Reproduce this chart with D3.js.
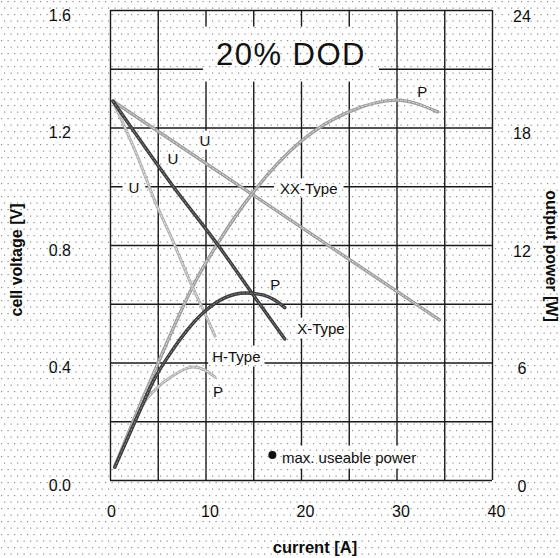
<!DOCTYPE html>
<html>
<head>
<meta charset="utf-8">
<script src="https://cdn.jsdelivr.net/npm/d3@7"></script>
<style>
  body { margin: 0; background: #fff; }
  svg { display: block; font-family: "Liberation Sans", Arial, sans-serif; }
</style>
</head>
<body>
<div id="chart"></div>
<script>
// tick labels
const currentTicks = [0, 10, 20, 30, 40];
const voltageTicks = [0, 0.4, 0.8, 1.2, 1.6];
const powerTicks = [0, 6, 12, 18, 24];

// cell voltage [V] vs current [A]
const xxVoltage = [[0.3, 1.29], [15, 0.97], [34.5, 0.545]];
const xVoltage = [[0.3, 1.29], [6.6, 1.0], [11.3, 0.8], [15, 0.63], [18.3, 0.48]];
const hVoltage = [[0.3, 1.29], [2.9, 1.1], [4.7, 0.95], [6.5, 0.82], [8.6, 0.66], [9.9, 0.57], [11, 0.49]];

// output power [W] vs current [A]
const xxPower = [[0.5, 0.7], [2, 2.5], [4.7, 5.6], [8.9, 10.1], [11.3, 12.1], [15, 14.7], [20, 17.3], [25, 18.8], [30, 19.4], [34.3, 18.8]];
const xPower = [[0.5, 0.65], [2, 2.3], [3, 3.4], [4.7, 5.2], [6.5, 6.6], [8, 7.6], [9.9, 8.6], [12, 9.3], [14.2, 9.55], [16, 9.45], [17.2, 9.2], [18.3, 8.8]];
const hPower = [[0.5, 0.65], [2, 2.4], [3.5, 3.9], [4.7, 4.6], [6.5, 5.3], [8.7, 5.77], [10, 5.6], [11, 5.25]];

var W = 560, H = 558;
var plotLeft = 110, plotRight = 492, plotTop = 10, plotBottom = 480;

var svg = d3.select("#chart")
    .append("svg")
    .attr("width", W)
    .attr("height", H);

// halftone dots of the scanned page
var defs = svg.append("defs");
var pat = defs.append("pattern")
    .attr("id", "dots")
    .attr("patternUnits", "userSpaceOnUse")
    .attr("width", 13).attr("height", 13);
[[1, 1], [7.5, 1], [4, 7.5], [10.5, 7.5]].forEach(function (p) {
    pat.append("rect").attr("x", p[0]).attr("y", p[1])
        .attr("width", 1.2).attr("height", 1.2).attr("fill", "#8c8c8c");
});

svg.append("rect").attr("width", W).attr("height", H).attr("fill", "#fff");
svg.append("rect").attr("width", W).attr("height", H).attr("fill", "url(#dots)");

var x = d3.scaleLinear().domain([0, 40]).range([plotLeft, plotRight]);
var yV = d3.scaleLinear().domain([0, 1.6]).range([plotBottom, plotTop]);
var yP = d3.scaleLinear().domain([0, 24]).range([plotBottom, plotTop]);

// grid
var grid = svg.append("g");
grid.append("g")
    .attr("transform", "translate(0," + plotBottom + ")")
    .call(d3.axisBottom(x).tickValues(d3.range(0, 41, 5)).tickSize(-(plotBottom - plotTop)).tickFormat(""))
    .call(function (g) { g.select(".domain").remove(); });
grid.append("g")
    .attr("transform", "translate(" + plotLeft + ",0)")
    .call(d3.axisLeft(yV).tickValues(d3.range(0, 9).map(function (i) { return i * 0.2; })).tickSize(-(plotRight - plotLeft)).tickFormat(""))
    .call(function (g) { g.select(".domain").remove(); });
grid.selectAll("line").attr("stroke", "#1a1a1a").attr("stroke-width", 1.4);

// tick labels
function styleTicks(g) {
    g.select(".domain").remove();
    g.selectAll(".tick line").remove();
    g.selectAll("text").attr("font-size", 16).attr("fill", "#0d0d0d")
        .attr("font-family", "Liberation Sans, Arial, sans-serif");
}
svg.append("g")
    .attr("transform", "translate(0," + plotBottom + ")")
    .call(d3.axisBottom(x).tickValues(currentTicks).tickSize(0).tickPadding(26))
    .call(styleTicks)
    .selectAll("text").attr("dx", function (d) { return d === 0 ? 1 : 4; });
svg.append("g")
    .attr("transform", "translate(" + plotLeft + ",0)")
    .call(d3.axisLeft(yV).tickValues(voltageTicks).tickSize(0).tickPadding(39).tickFormat(d3.format(".1f")))
    .call(styleTicks)
    .selectAll("text").attr("dy", "0.65em");
svg.append("g")
    .attr("transform", "translate(" + plotRight + ",0)")
    .call(d3.axisRight(yP).tickValues(powerTicks).tickSize(0).tickPadding(30))
    .call(styleTicks)
    .selectAll("text").attr("text-anchor", "middle").attr("dy", "0.7em");

// axis titles
svg.append("text")
    .attr("x", 315).attr("y", 553)
    .attr("text-anchor", "middle")
    .attr("font-weight", "bold").attr("font-size", 16.5).attr("fill", "#0d0d0d")
    .text("current [A]");
svg.append("text")
    .attr("transform", "translate(22,260) rotate(-90)")
    .attr("text-anchor", "middle")
    .attr("font-weight", "bold").attr("font-size", 16).attr("fill", "#0d0d0d")
    .text("cell voltage [V]");
svg.append("text")
    .attr("transform", "translate(546,256) rotate(90)")
    .attr("text-anchor", "middle")
    .attr("font-weight", "bold").attr("font-size", 16).attr("fill", "#0d0d0d")
    .text("output power [W]");

// labels that sit on a blank patch over the grid
var labels = svg.append("g");
function boxLabel(txt, cx, cy, size, anchor, padX, padY, spacing) {
    var g = labels.append("g");
    var t = g.append("text")
        .attr("x", cx).attr("y", cy)
        .attr("text-anchor", anchor)
        .attr("dominant-baseline", "central")
        .attr("font-size", size).attr("fill", "#111")
        .attr("letter-spacing", spacing || 0)
        .text(txt);
    var b = t.node().getBBox();
    g.insert("rect", "text")
        .attr("x", b.x - padX).attr("y", b.y - padY)
        .attr("width", b.width + 2 * padX).attr("height", b.height + 2 * padY)
        .attr("fill", "url(#dots)");
    g.insert("rect", "rect")
        .attr("x", b.x - padX).attr("y", b.y - padY)
        .attr("width", b.width + 2 * padX).attr("height", b.height + 2 * padY)
        .attr("fill", "#fff");
    return g;
}

boxLabel("20% DOD", x(18.95), yV(1.45), 31, "middle", 13, 10, 1.5);
boxLabel("U", x(9.95), yV(1.157), 15, "middle", 3, 1);
boxLabel("U", x(6.6), yV(1.096), 15, "middle", 3, 1);
boxLabel("U", x(2.5), yV(0.997), 15, "middle", 6, 1);
boxLabel("XX-Type", x(17.8), yV(0.994), 15, "start", 6, 1);
boxLabel("P", x(32.7), yV(1.321), 15, "middle", 3, 1);
boxLabel("P", x(17.3), yV(0.664), 15, "middle", 3, 1);
boxLabel("X-Type", x(19.6), yV(0.517), 15, "start", 4, 2);
boxLabel("H-Type", x(10.7), yV(0.422), 15, "start", 4, 2);
boxLabel("P", x(11.3), yV(0.30), 15, "middle", 3, 1);
var maxG = boxLabel("max. useable power", x(18.0), yV(0.078), 15, "start", 4, 3);
// widen the blank patch so it also covers the dot marker
maxG.selectAll("rect").attr("x", x(16.2)).attr("width", x(33.5) - x(16.2));
maxG.append("circle")
    .attr("cx", x(17.0)).attr("cy", yV(0.085))
    .attr("r", 4).attr("fill", "#111");

// curves
var lineV = d3.line()
    .x(function (d) { return x(d[0]); })
    .y(function (d) { return yV(d[1]); })
    .curve(d3.curveMonotoneX);
var lineP = d3.line()
    .x(function (d) { return x(d[0]); })
    .y(function (d) { return yP(d[1]); })
    .curve(d3.curveMonotoneX);

var series = [
    { data: xxVoltage, line: lineV, outer: "#9d9d9d", inner: "#e2e2e2", w: 3.4 },
    { data: xxPower, line: lineP, outer: "#9d9d9d", inner: "#e2e2e2", w: 3.4 },
    { data: hVoltage, line: lineV, outer: "#b0b0b0", inner: "#ececec", w: 3 },
    { data: hPower, line: lineP, outer: "#b0b0b0", inner: "#ececec", w: 3 },
    { data: xVoltage, line: lineV, outer: "#3c3c3c", inner: "#8a8a8a", w: 3.4 },
    { data: xPower, line: lineP, outer: "#3c3c3c", inner: "#8a8a8a", w: 3.4 }
];

var curves = svg.append("g").attr("fill", "none").attr("stroke-linecap", "round");
series.forEach(function (s) {
    curves.append("path")
        .attr("d", s.line(s.data))
        .attr("stroke", s.outer)
        .attr("stroke-width", s.w);
    curves.append("path")
        .attr("d", s.line(s.data))
        .attr("stroke", s.inner)
        .attr("stroke-width", 0.9)
        .attr("stroke-dasharray", "2 2");
});
</script>
</body>
</html>
